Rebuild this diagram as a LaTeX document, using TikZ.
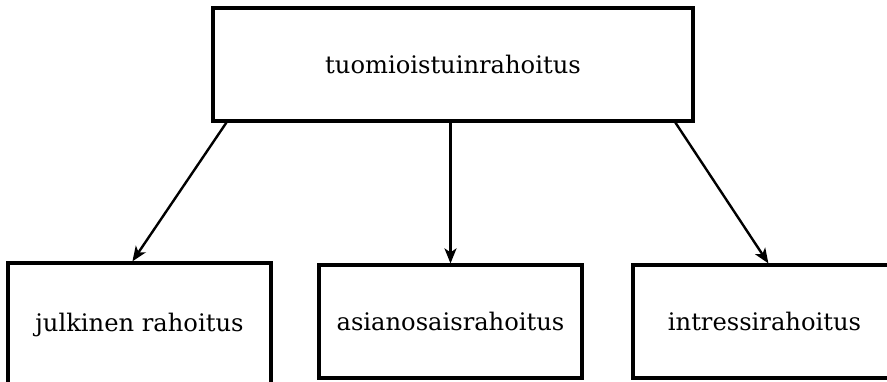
\documentclass[tikz,border=0pt]{standalone}
\usepackage{fontspec}
\setmainfont{DejaVu Serif}
\usetikzlibrary{arrows.meta}
\begin{document}
\begin{tikzpicture}[x=1pt,y=-1pt,
  box/.style={draw=black, line width=3.2pt, fill=white, inner sep=0pt,
    font=\fontsize{24.2}{29}\selectfont, text=black},
  conn/.style={line width=2.4pt, -{Stealth[length=15pt,width=12pt,inset=4pt]}}]
\useasboundingbox (0,0) rectangle (887,381);
\clip (0,0) rectangle (887,381);
\node[box, minimum width=480pt, minimum height=113pt] (t) at (453,64.5) {tuomioistuinrahoitus};
\node[box, minimum width=263pt, minimum height=124pt] (l) at (139.5,325) {julkinen rahoitus};
\node[box, minimum width=263pt, minimum height=113pt] (m) at (450.5,321.5) {asianosaisrahoitus};
\node[box, minimum width=263pt, minimum height=113pt] (r) at (764.5,321.5) {intressirahoitus};
\draw[conn] ([xshift=15pt]t.south west) -- ([xshift=126pt]l.north west);
\draw[conn] (m.north |- t.south) -- (m.north);
\draw[conn] ([xshift=464pt]t.south west) -- ([xshift=137pt]r.north west);
\end{tikzpicture}
\end{document}
